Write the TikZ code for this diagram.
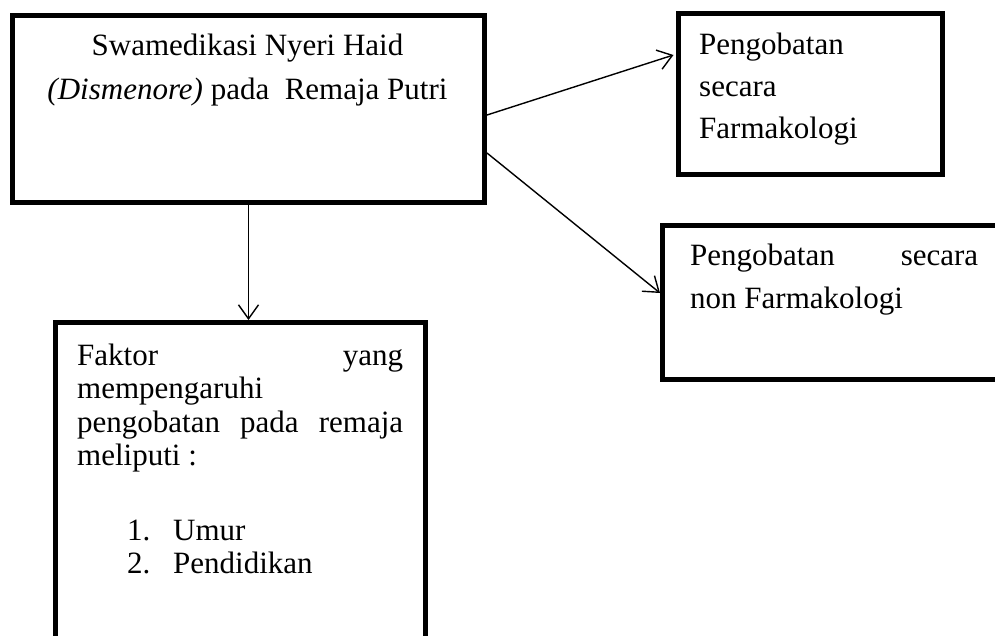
\documentclass[tikz,border=0pt]{standalone}
\usepackage{fontspec}
\setmainfont{Liberation Serif}
\usetikzlibrary{arrows.meta,calc}
\begin{document}
\begin{tikzpicture}[x=1pt,y=-1pt,
  box/.style={draw=black,line width=5pt,rectangle,inner sep=0pt},
  txt/.style={anchor=base west,inner sep=0pt,font=\fontsize{31}{42}\selectfont},
  ctxt/.style={anchor=base,inner sep=0pt,font=\fontsize{31}{42}\selectfont},
  arr/.style={draw=black,line width=1.4pt,-{Straight Barb[length=14pt,width=20pt,line width=1.4pt]}}]
\useasboundingbox (0,0) rectangle (995,635);
\clip (0,0) rectangle (995,635);
% boxes
\node[box,minimum width=472pt,minimum height=187pt] (b1) at (248.5,109) {};
\node[box,minimum width=264.5pt,minimum height=161.5pt] (b2) at (810.25,93.75) {};
\node[box,minimum width=347.5pt,minimum height=154pt] (b3) at (836.25,302.5) {};
\node[box,minimum width=370.5pt,minimum height=337.5pt] (b4) at (240.25,491.25) {};
% box 1 text
\node[ctxt] (t1a) at (247.5,55) {Swamedikasi Nyeri Haid};
\node[ctxt] (t1b) at (247.5,99) {\textit{(Dismenore)} pada\ \ Remaja Putri};
% box 2 text
\node[txt] (t2a) at (699,54) {Pengobatan};
\node[txt] (t2b) at (699,96) {secara};
\node[txt] (t2c) at (699,138) {Farmakologi};
% box 3 text
\node[txt] (t3a) at (690,265) {\hbox to 288pt{Pengobatan\hfill secara}};
\node[txt] (t3b) at (690,308) {non Farmakologi};
% box 4 text
\node[txt] (t4a) at (77,365) {\hbox to 326pt{Faktor\hfill yang}};
\node[txt] (t4b) at (77,398) {mempengaruhi};
\node[txt] (t4c) at (77,432) {\hbox to 326pt{pengobatan\hfill pada\hfill remaja}};
\node[txt] (t4d) at (77,465) {meliputi :};
\node[txt] (t4e) at (127,540) {1.};
\node[txt] (t4f) at (173,540) {Umur};
\node[txt] (t4g) at (127,573) {2.};
\node[txt] (t4h) at (173,573) {Pendidikan};
% connectors
\draw[arr] ($(b1.north east)+(0,102)$) -- ($(b2.north west)+(-2,44.5)$);
\draw[arr] ($(b1.north east)+(0,140)$) -- ($(b3.north west)+(0,70)$);
\draw[arr] (b1.south) -- (b1.south |- b4.north);
\end{tikzpicture}
\end{document}
